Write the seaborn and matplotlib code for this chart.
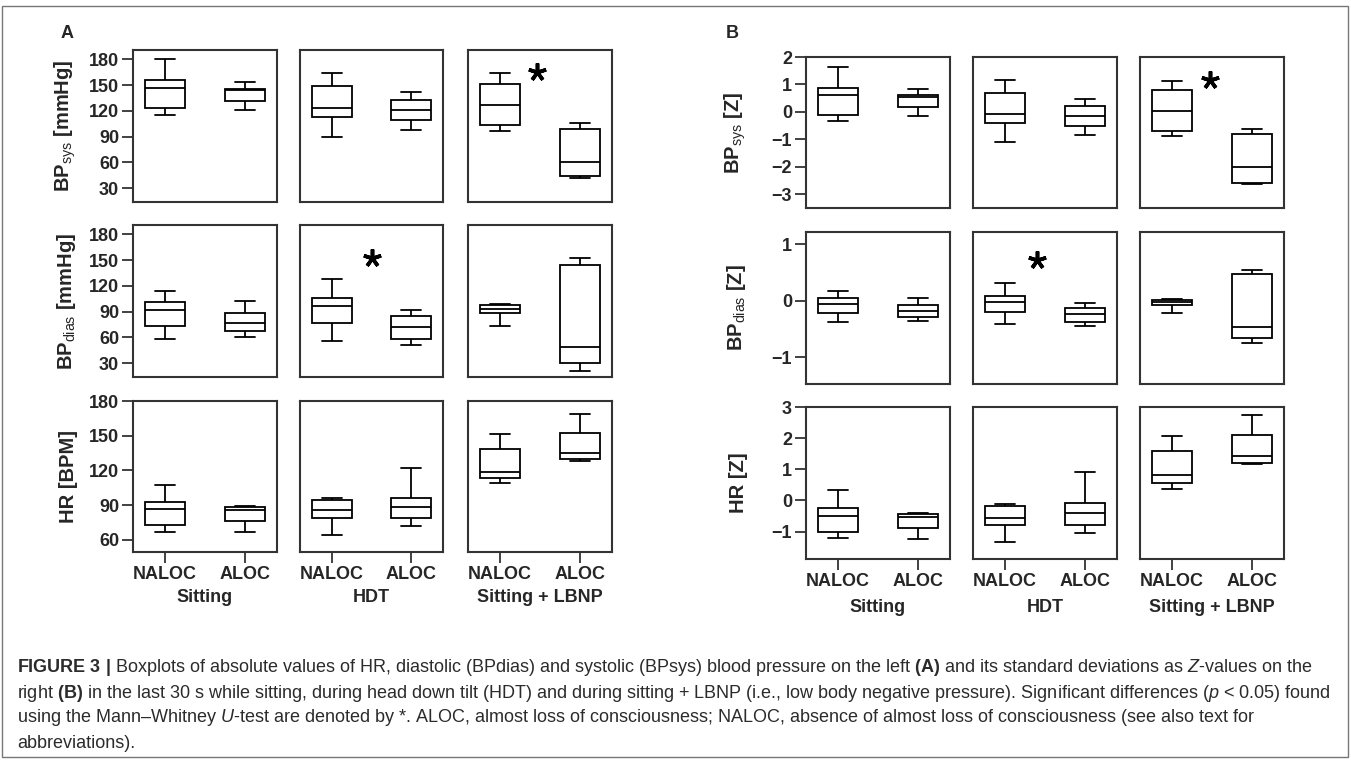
import numpy as np
import pandas as pd
import matplotlib
matplotlib.use("Agg")
import matplotlib.pyplot as plt
import seaborn as sns
from matplotlib.patches import Rectangle

# categories
conditions = ["Sitting", "HDT", "Sitting + LBNP"]
groups = ["NALOC", "ALOC"]

# five-number summaries read off the boxes: min, Q1, median, Q3, max
# order: Sitting NALOC, Sitting ALOC, HDT NALOC, HDT ALOC, LBNP NALOC, LBNP ALOC
abs_bpsys = [[115, 123.5, 147, 156, 180], [121, 132, 145, 146, 154],
             [90, 113.5, 124, 148.5, 164.5], [98, 110, 121.5, 133, 142],
             [96.5, 104, 127.5, 151.5, 164], [42, 44, 61, 99.5, 105.5]]
abs_bpdias = [[58, 73.5, 92, 101, 114], [61, 68, 77, 88, 102],
              [55.5, 76.5, 97, 106, 128], [51.5, 58.5, 72, 84.5, 92],
              [73.5, 88, 93, 98, 99.5], [20.5, 30, 49.5, 145, 153]]
abs_hr = [[67, 72.5, 87, 92.5, 107], [67, 76, 85.5, 88.5, 89],
          [64.5, 79, 86, 94, 96.5], [72, 78.5, 88.5, 96.5, 122],
          [109, 113, 119, 138.5, 151.5], [128.5, 129.5, 135, 152, 168.5]]
z_bpsys = [[-0.32, -0.1, 0.6, 0.88, 1.64], [-0.14, 0.18, 0.54, 0.62, 0.84],
           [-1.09, -0.4, -0.06, 0.7, 1.16], [-0.85, -0.5, -0.14, 0.2, 0.48],
           [-0.88, -0.68, 0.04, 0.78, 1.14], [-2.64, -2.6, -2.0, -0.8, -0.62]]
z_bpdias = [[-0.37, -0.22, -0.05, 0.05, 0.18], [-0.35, -0.28, -0.18, -0.08, 0.05],
            [-0.4, -0.2, -0.01, 0.09, 0.31], [-0.44, -0.37, -0.24, -0.12, -0.04],
            [-0.22, -0.07, -0.02, 0.02, 0.035], [-0.74, -0.65, -0.47, 0.48, 0.55]]
z_hr = [[-1.22, -1.02, -0.49, -0.25, 0.32], [-1.24, -0.88, -0.52, -0.42, -0.41],
        [-1.35, -0.79, -0.56, -0.19, -0.11], [-1.05, -0.79, -0.41, -0.08, 0.92],
        [0.38, 0.57, 0.83, 1.59, 2.07], [1.18, 1.21, 1.42, 2.09, 2.73]]

ylabels_a = [r"$\mathbf{BP}_{\mathrm{sys}}$ [mmHg]", r"$\mathbf{BP}_{\mathrm{dias}}$ [mmHg]", "HR [BPM]"]
ylabels_b = [r"$\mathbf{BP}_{\mathrm{sys}}$ [Z]", r"$\mathbf{BP}_{\mathrm{dias}}$ [Z]", "HR [Z]"]
yticks_a = [[30, 60, 90, 120, 150, 180], [30, 60, 90, 120, 150, 180], [60, 90, 120, 150, 180]]
yticks_b = [[-3, -2, -1, 0, 1, 2], [-1, 0, 1], [-1, 0, 1, 2, 3]]
ylims_a = [(14, 191), (14, 191), (49.4, 180)]
ylims_b = [(-3.5, 2.0), (-1.47, 1.22), (-1.88, 3.0)]

# significance stars: (row, condition, x, y)
stars_a = [(0, 2, 0.46, 165.4), (1, 1, 0.5, 152)]
stars_b = [(0, 2, 0.48, 1.16), (1, 1, 0.4, 0.73)]

sns.set_theme(style="ticks")
plt.rcParams["font.family"] = ["Liberation Sans", "DejaVu Sans"]
plt.rcParams["mathtext.fontset"] = "custom"
plt.rcParams["mathtext.rm"] = "Liberation Sans"
plt.rcParams["mathtext.bf"] = "Liberation Sans:bold"
plt.rcParams["mathtext.it"] = "Liberation Sans:italic"

W, H = 1351, 761
fig = plt.figure(figsize=(W / 100, H / 100), dpi=100)
edge = "#333333"


def long_frame(summary):
    rows = []
    for i, five in enumerate(summary):
        for v in five:
            rows.append({"condition": conditions[i // 2], "group": groups[i % 2], "value": v})
    return pd.DataFrame(rows)


def px_axes(x0, x1, y0, y1):
    return fig.add_axes([x0 / W, 1 - y1 / H, (x1 - x0) / W, (y1 - y0) / H])


def draw_block(datasets, cols, rows, ylabels, yticks, ylims, stars, label_y, label_x):
    for r, data in enumerate(datasets):
        df = long_frame(data)
        for c, cond in enumerate(conditions):
            ax = px_axes(cols[c][0], cols[c][1], rows[r][0], rows[r][1])
            sub = df[df["condition"] == cond]
            sns.boxplot(data=sub, x="group", y="value", order=groups, whis=(0, 100),
                        width=0.5, color="white", saturation=1, linecolor="black",
                        linewidth=1.3, showfliers=False, ax=ax)
            ax.set_xlim(-0.4, 1.4)
            ax.set_ylim(*ylims[r])
            ax.set_xlabel("")
            for sp in ax.spines.values():
                sp.set_visible(True)
                sp.set_color(edge)
                sp.set_linewidth(1.5)
            ax.tick_params(direction="out", length=8, width=1.3, color=edge,
                           labelsize=13, pad=2)
            ax.set_yticks(yticks[r])
            if c == 0:
                ax.set_yticklabels([f"{t}".replace("-", "\u2212") for t in yticks[r]],
                                   fontweight="bold")
                ax.set_ylabel(ylabels[r], fontsize=14.5, fontweight="bold")
                ax.yaxis.set_label_coords(label_x, 0.5)
            else:
                ax.tick_params(axis="y", left=False, labelleft=False)
                ax.set_ylabel("")
            if r == len(datasets) - 1:
                ax.set_xticks([0, 1])
                ax.set_xticklabels(groups, fontweight="bold")
                fig.text((cols[c][0] + cols[c][1]) / 2 / W, 1 - label_y / H, cond,
                         ha="center", va="center", fontsize=13, fontweight="bold")
            else:
                ax.tick_params(axis="x", bottom=False, labelbottom=False)
            for sr, sc, sx, sy in stars:
                if sr == r and sc == c:
                    ax.plot(sx, sy, marker=(5, 2, 0), markersize=13, markeredgewidth=2.6,
                            color="black")


cols_a = [(133, 277), (300, 443), (468, 612)]
rows_a = [(50, 202), (225, 377), (401, 552)]
cols_b = [(806, 950), (973, 1117), (1140, 1284)]
rows_b = [(57, 208), (232, 384), (407, 559)]

draw_block([abs_bpsys, abs_bpdias, abs_hr], cols_a, rows_a, ylabels_a, yticks_a,
           ylims_a, stars_a, 598, -0.38)
draw_block([z_bpsys, z_bpdias, z_hr], cols_b, rows_b, ylabels_b, yticks_b,
           ylims_b, stars_b, 607, -0.40)

fig.text(61 / W, 1 - 33 / H, "A", ha="left", va="center", fontsize=13, fontweight="bold")
fig.text(726 / W, 1 - 33 / H, "B", ha="left", va="center", fontsize=13, fontweight="bold")

caption = [
    r"$\mathbf{FIGURE\ 3\ |}$ Boxplots of absolute values of HR, diastolic (BPdias) and systolic (BPsys) blood pressure on the left $\mathbf{(A)}$ and its standard deviations as $\mathit{Z}$-values on the",
    r"right $\mathbf{(B)}$ in the last 30 s while sitting, during head down tilt (HDT) and during sitting + LBNP (i.e., low body negative pressure). Significant differences ($\mathit{p}$ < 0.05) found",
    r"using the Mann–Whitney $\mathit{U}$-test are denoted by *. ALOC, almost loss of consciousness; NALOC, absence of almost loss of consciousness (see also text for",
    "abbreviations).",
]
for i, line in enumerate(caption):
    fig.text(17 / W, 1 - (668 + 25 * i) / H, line, ha="left", va="center",
             fontsize=13, color="#2b2b2b")

fig.add_artist(Rectangle((2 / W, 4 / H), 1346 / W, 751 / H, transform=fig.transFigure,
                         fill=False, edgecolor="#777777", linewidth=1))

fig.savefig("out.png", dpi=100)
